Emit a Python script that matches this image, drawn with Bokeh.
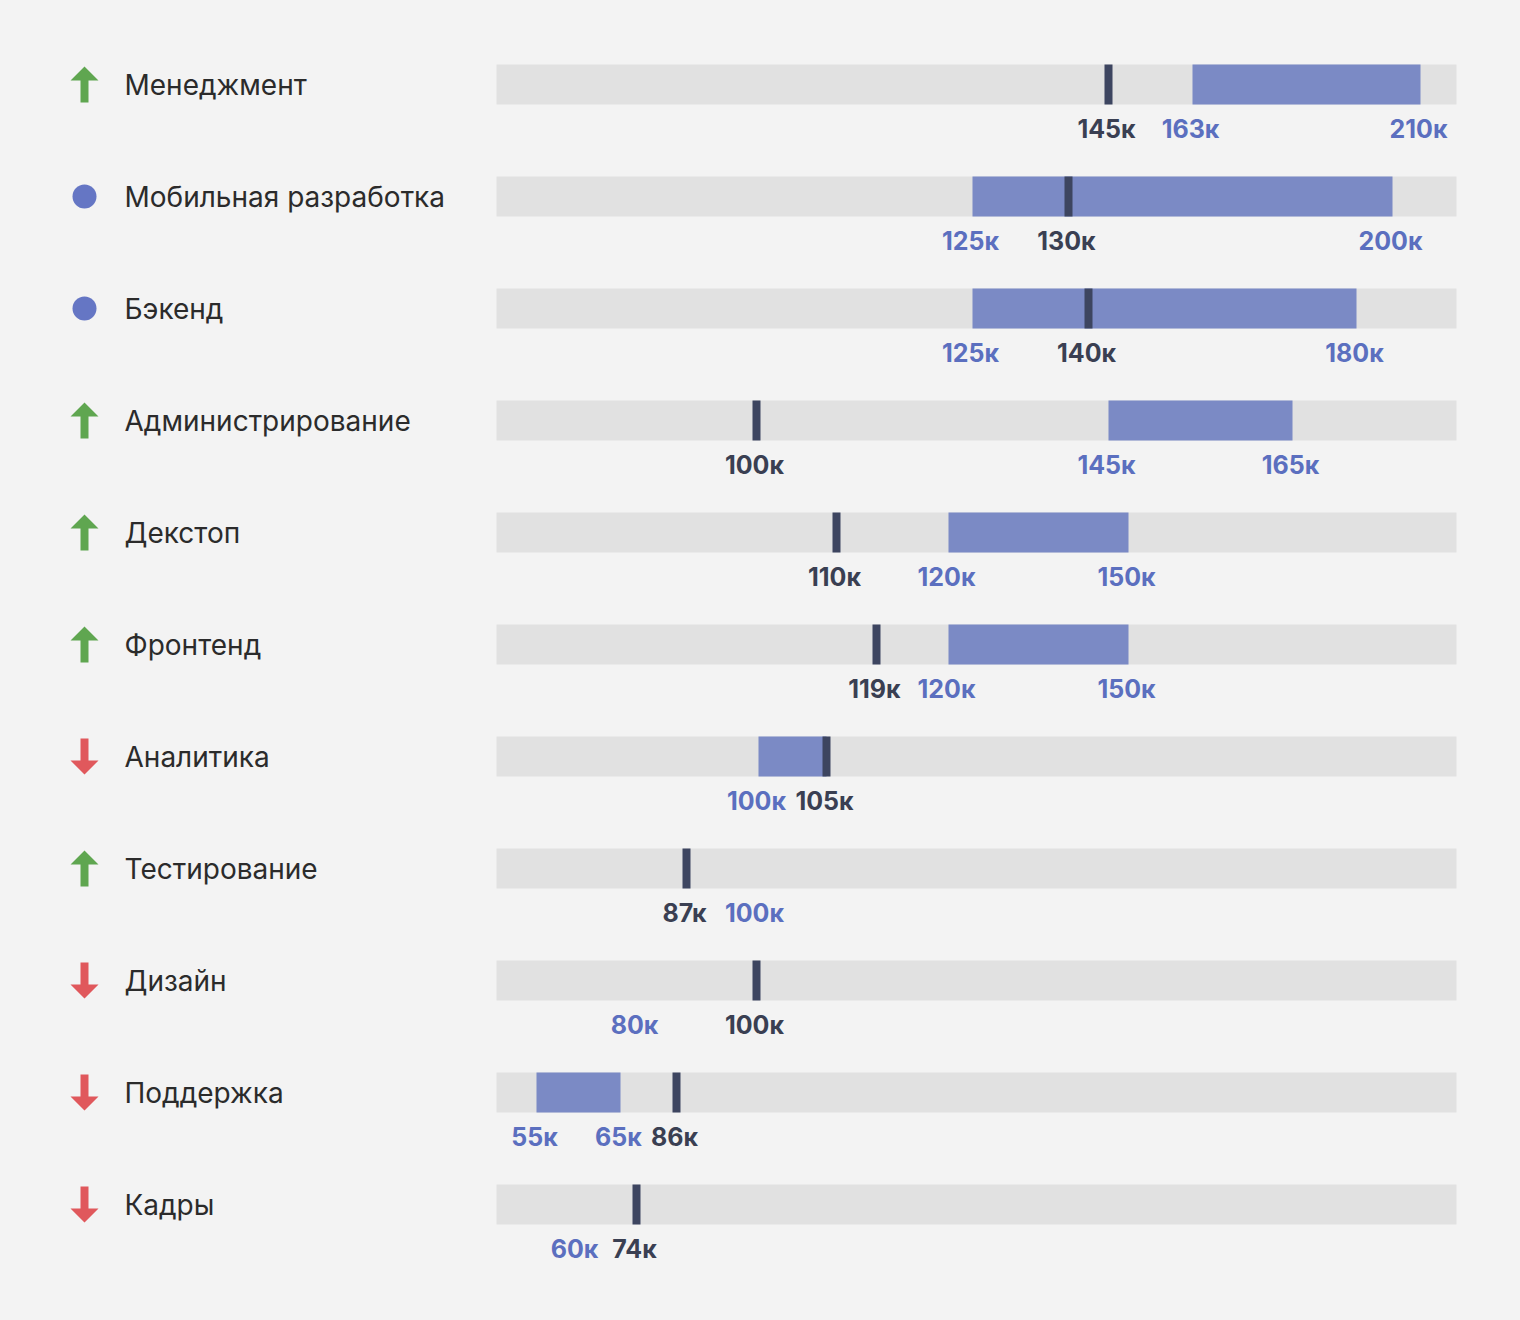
from bokeh.plotting import figure
from bokeh.models import Range1d, ColumnDataSource
from bokeh.core.properties import value
from bokeh.embed import file_html
from bokeh.resources import INLINE

# ---- data ----
categories = ["Менеджмент", "Мобильная разработка", "Бэкенд", "Администрирование",
              "Декстоп", "Фронтенд", "Аналитика", "Тестирование", "Дизайн",
              "Поддержка", "Кадры"]
trend = ["up", "flat", "flat", "up", "up", "up", "down", "up", "down", "down", "down"]
# salary values (thousands)
low_k = [163, 125, 125, 145, 120, 120, 100, 100, 80, 55, 60]
high_k = [210, 200, 180, 165, 150, 150, 105, 100, 80, 65, 60]
median_k = [145, 130, 140, 100, 110, 119, 105, 87, 100, 86, 74]
# where the original places them along its (non-linear) track, 0..960
low_pos = [696, 476, 476, 612, 452, 452, 262, 260, 140, 40, 80]
high_pos = [924, 896, 860, 796, 632, 632, 330, 260, 140, 124, 80]
median_pos = [612, 572, 592, 260, 340, 380, 330, 190, 260, 180, 140]
track_max = 960

BG = "#f3f3f3"
TRACK = "#e1e1e1"
BAR = "#7b8ac5"
MARK = "#3d4560"
DARK_TXT = "#3a3f52"
BLUE_TXT = "#5b6fbf"
CAT_TXT = "#2b2b2b"
GREEN = "#5fa650"
RED = "#e0585c"
DOT = "#6576c4"

n = len(categories)
rows = list(range(n))
ROW_PX = 112.0
top = -84 / ROW_PX
bottom = top + 1304 / ROW_PX

p = figure(width=1504, height=1304, output_backend="svg", toolbar_location=None,
           x_range=Range1d(-496, 1008), y_range=Range1d(bottom, top),
           x_axis_location=None, y_axis_location=None, min_border=0,
           background_fill_color=BG, border_fill_color=BG, outline_line_color=None)
p.grid.visible = False

bh = 40 / ROW_PX
# tracks
p.hbar(y=rows, left=[0] * n, right=[track_max] * n, height=bh, color=TRACK, line_color=None)
# ranges
p.hbar(y=rows, left=low_pos, right=high_pos, height=bh, color=BAR, line_color=None)
# medians
p.rect(x=median_pos, y=rows, width=8, height=40, width_units="screen", height_units="screen",
       color=MARK, line_color=None)

# value labels
lx, ly, lt, lc = [], [], [], []
for i in rows:
    lx.append(low_pos[i]); ly.append(i); lt.append(f"{low_k[i]}к"); lc.append(BLUE_TXT)
    if high_k[i] != low_k[i] and high_k[i] != median_k[i]:
        lx.append(high_pos[i]); ly.append(i); lt.append(f"{high_k[i]}к"); lc.append(BLUE_TXT)
    lx.append(median_pos[i]); ly.append(i); lt.append(f"{median_k[i]}к"); lc.append(DARK_TXT)
src = ColumnDataSource(dict(x=lx, y=ly, t=lt, c=lc))
p.text(x="x", y="y", text="t", source=src, text_color="c", text_align="center",
       text_baseline="middle", y_offset=44, x_offset=-2, text_font=value("Inter"),
       text_font_size="25px", text_font_style="bold")

# category labels
p.text(x=[-372] * n, y=rows, text=categories, text_color=CAT_TXT, text_align="left",
       text_baseline="middle", y_offset=0, text_font=value("Inter"), text_font_size="28px")

# icons
ICX = -412
up_shape = [(0, -18), (14, -4), (4, -4), (4, 18), (-4, 18), (-4, -4), (-14, -4)]
xs, ys, cols = [], [], []
dot_rows = []
for i, t in enumerate(trend):
    if t == "flat":
        dot_rows.append(i)
        continue
    sgn = 1 if t == "up" else -1
    xs.append([ICX + dx for dx, dy in up_shape])
    ys.append([i + sgn * dy / ROW_PX for dx, dy in up_shape])
    cols.append(GREEN if t == "up" else RED)
p.patches(xs=xs, ys=ys, color=cols, line_color=None)
p.scatter(x=[ICX] * len(dot_rows), y=dot_rows, marker="circle", size=24, color=DOT, line_color=None)

html = file_html(p, INLINE)
html = html.replace("<head>", "<head><style>html,body{background:#f3f3f3;}</style>", 1)
open("out.html", "w").write(html)
